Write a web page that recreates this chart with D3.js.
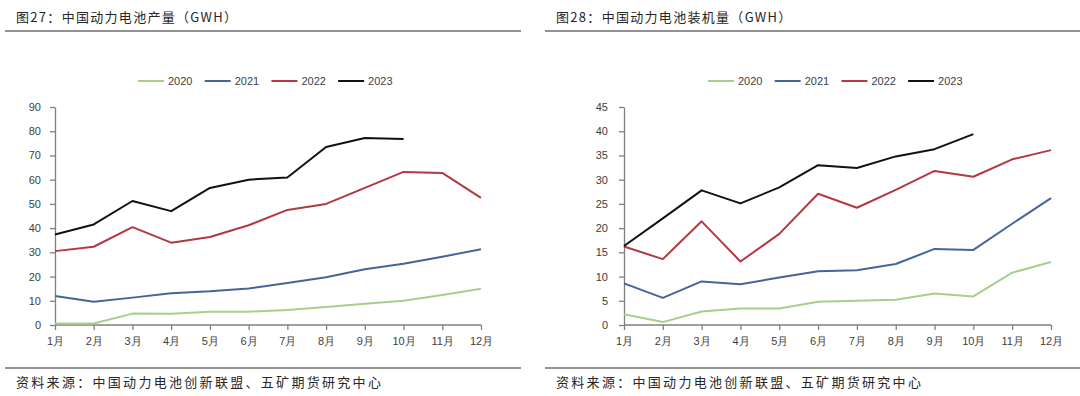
<!DOCTYPE html>
<html><head><meta charset="utf-8">
<script src="https://cdn.jsdelivr.net/npm/d3@7"></script>
<style>
body{margin:0;background:#fff;}
svg{display:block;}
</style></head><body>
<svg id="c" width="1080" height="396"></svg>
<script>
const months = ["1月","2月","3月","4月","5月","6月","7月","8月","9月","10月","11月","12月"];
const years = ["2020","2021","2022","2023"];
const colors = ["#a6cf8b","#44659b","#b3383f","#111111"];

// 图27 production (GWH)
const prod2020 = [0.6,0.6,4.7,4.6,5.5,5.5,6.2,7.4,8.8,10.0,12.4,15.0];
const prod2021 = [12.0,9.6,11.3,13.1,13.9,15.1,17.3,19.7,23.0,25.3,28.2,31.3];
const prod2022 = [30.5,32.3,40.4,34.0,36.3,41.2,47.5,50.0,56.6,63.2,62.8,52.5];
const prod2023 = [37.4,41.5,51.2,47.0,56.6,60.0,60.9,73.5,77.2,76.8];
const prodTicks = [0,10,20,30,40,50,60,70,80,90];

// 图28 installed (GWH)
const inst2020 = [2.2,0.6,2.8,3.4,3.4,4.8,5.0,5.2,6.5,5.9,10.8,13.0];
const inst2021 = [8.6,5.6,9.0,8.4,9.8,11.1,11.3,12.6,15.7,15.5,20.9,26.2];
const inst2022 = [16.2,13.6,21.4,13.1,18.8,27.1,24.2,27.9,31.8,30.6,34.2,36.1];
const inst2023 = [16.3,22.0,27.8,25.1,28.4,33.0,32.4,34.8,36.3,39.4];
const instTicks = [0,5,10,15,20,25,30,35,40,45];

const titles = ["图27：中国动力电池产量（GWH）","图28：中国动力电池装机量（GWH）"];
const sourceText = "资料来源：中国动力电池创新联盟、五矿期货研究中心";

const svg = d3.select("#c");
const cjk = "'Noto Sans CJK SC','Noto Sans',sans-serif";
const lat = "'Liberation Sans',Arial,sans-serif";

function panel(cfg){
  const g = svg.append("g");
  // title
  g.append("text").attr("x",cfg.ox+16).attr("y",22)
    .attr("font-family",cjk).attr("font-size",13).attr("letter-spacing","1.3px")
    .attr("fill","#262626").text(cfg.title);
  g.append("line").attr("x1",cfg.lineX1).attr("x2",cfg.lineX2).attr("y1",31).attr("y2",31)
    .attr("stroke","#6e6e6e").attr("stroke-width",1.4);
  g.append("line").attr("x1",cfg.lineX1).attr("x2",cfg.lineX2).attr("y1",368).attr("y2",368)
    .attr("stroke","#6e6e6e").attr("stroke-width",1.4);
  g.append("text").attr("x",cfg.ox+16).attr("y",387)
    .attr("font-family",cjk).attr("font-size",13).attr("letter-spacing","2.3px")
    .attr("fill","#262626").text(sourceText);

  const x = d3.scalePoint().domain(months).range([cfg.x0,cfg.x1]);
  const y = d3.scaleLinear().domain([0,cfg.max]).range([325,107]);

  const yAxis = g.append("g").attr("transform",`translate(${cfg.x0},0)`)
    .call(d3.axisLeft(y).tickValues(cfg.ticks).tickSize(5).tickPadding(cfg.pad).tickSizeOuter(0));
  const xAxis = g.append("g").attr("transform","translate(0,325)")
    .call(d3.axisBottom(x).tickSize(5).tickPadding(7).tickSizeOuter(0));
  [yAxis,xAxis].forEach(a=>{
    a.select(".domain").attr("stroke","#7f7f7f").attr("stroke-width",1.3);
    a.selectAll(".tick line").attr("stroke","#7f7f7f").attr("stroke-width",1.3);
    a.selectAll(".tick text").attr("fill","#404040").attr("font-family",lat).attr("font-size",11);
  });
  xAxis.select(".domain").attr("d",`M${cfg.x0},0H${cfg.x1}`);

  const line = d3.line().x((d,i)=>x(months[i])).y(d=>y(d));
  cfg.series.forEach((s,k)=>{
    g.append("path").datum(s).attr("d",line).attr("fill","none")
      .attr("stroke",colors[k]).attr("stroke-width",2).attr("stroke-linejoin","round");
  });

  // legend
  const lg = g.append("g").attr("transform",`translate(${cfg.legX},81)`);
  years.forEach((yr,k)=>{
    const it = lg.append("g").attr("transform",`translate(${k*66.7},0)`);
    it.append("line").attr("x1",0).attr("x2",26).attr("y1",0).attr("y2",0)
      .attr("stroke",colors[k]).attr("stroke-width",2);
    it.append("text").attr("x",30).attr("y",4).attr("font-family",lat).attr("font-size",11)
      .attr("fill","#404040").text(yr);
  });
}

panel({ox:0,title:titles[0],lineX1:5,lineX2:521,x0:55,x1:481,max:90,ticks:prodTicks,pad:9,
  series:[prod2020,prod2021,prod2022,prod2023],legX:138});
panel({ox:540,title:titles[1],lineX1:545,lineX2:1080,x0:624,x1:1051,max:45,ticks:instTicks,pad:11,
  series:[inst2020,inst2021,inst2022,inst2023],legX:708});
</script>
</body></html>
